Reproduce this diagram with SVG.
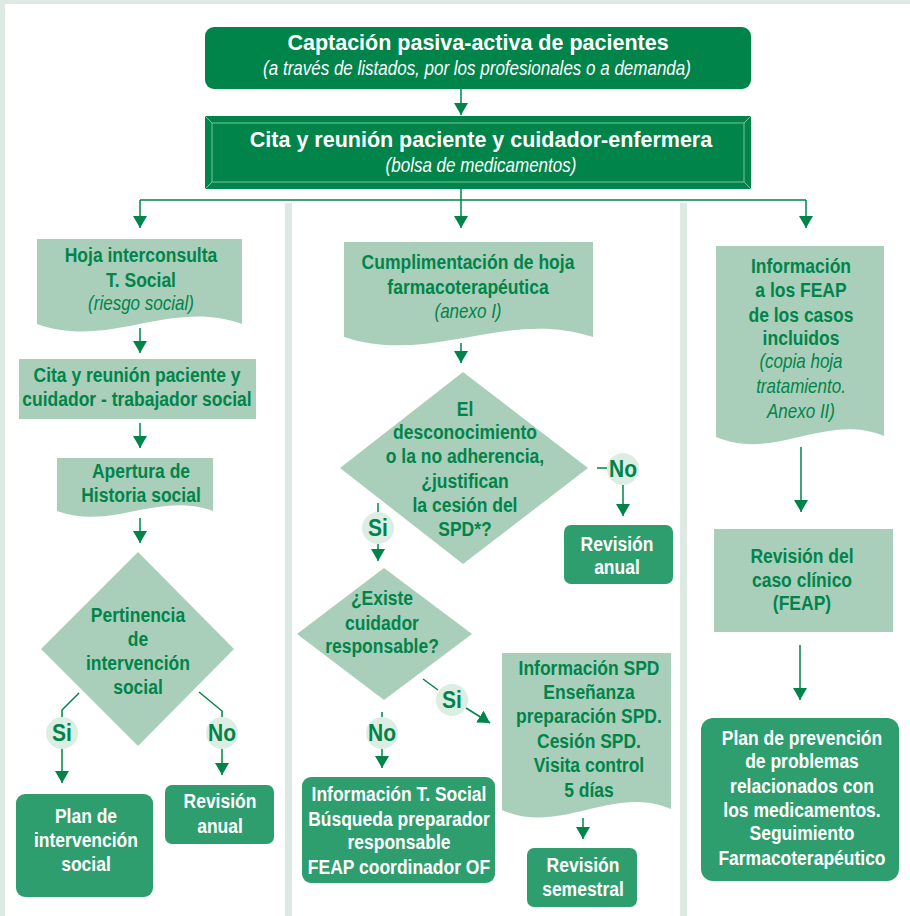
<svg xmlns="http://www.w3.org/2000/svg" width="910" height="916" viewBox="0 0 910 916">
<defs>
<style>
.bg{fill:#dde9e3}
.panel{fill:#ffffff}
.dark{fill:#00844a}
.light{fill:#a9cfba}
.med{fill:#2f9e6f}
.circ{fill:#dcede4}
.t{font-family:"Liberation Sans",Arial,sans-serif;font-weight:bold;font-size:17.5px;fill:#00844a;text-anchor:middle}
.w{fill:#ffffff}
.it{font-family:"Liberation Sans",Arial,sans-serif;font-style:italic;font-weight:normal;font-size:17px;fill:#00844a;text-anchor:middle}
.title{font-family:"Liberation Sans",Arial,sans-serif;font-weight:bold;font-size:21.5px;fill:#ffffff;text-anchor:middle}
.sub{font-family:"Liberation Sans",Arial,sans-serif;font-style:italic;font-size:17px;fill:#ffffff;text-anchor:middle}
.lbl{font-family:"Liberation Sans",Arial,sans-serif;font-weight:bold;font-size:21px;fill:#00844a;text-anchor:middle}
.t,.it,.lbl,.sub{transform-box:fill-box;transform-origin:50% 81%;transform:scaleY(1.14)}
.ln{fill:none;stroke:#00844a;stroke-width:1.5}
.arr{fill:none;stroke:#00844a;stroke-width:1.5;marker-end:url(#ah)}
.bev{fill:none;stroke:#7fc09c;stroke-width:1}
</style>
<marker id="ah" viewBox="0 0 12 14" refX="12" refY="7" markerWidth="12" markerHeight="14" markerUnits="userSpaceOnUse" orient="auto">
<path d="M0,0 L12,7 L0,14 Z" fill="#00844a"/>
</marker>
</defs>

<rect class="bg" x="0" y="0" width="910" height="916"/>
<rect class="panel" x="5" y="4" width="905" height="912"/>
<rect class="bg" x="285" y="203" width="7" height="713"/>
<rect class="bg" x="680" y="203" width="7" height="713"/>

<g id="connectors">
<line class="arr" x1="461" y1="89" x2="461" y2="115"/>
<polyline class="ln" points="140,200 806,200"/>
<line class="ln" x1="461" y1="189" x2="461" y2="200"/>
<line class="arr" x1="140" y1="200" x2="140" y2="228"/>
<line class="arr" x1="461" y1="200" x2="461" y2="228"/>
<line class="arr" x1="806" y1="200" x2="806" y2="228"/>
<line class="arr" x1="140" y1="328" x2="140" y2="353"/>
<line class="arr" x1="140" y1="423" x2="140" y2="448"/>
<line class="arr" x1="140" y1="518" x2="140" y2="543"/>
<polyline class="ln" points="79,693 62,710 62,717"/>
<line class="arr" x1="62" y1="749" x2="62" y2="783"/>
<polyline class="ln" points="199,692 222,711 222,717"/>
<line class="arr" x1="222" y1="749" x2="222" y2="775"/>
<line class="arr" x1="461" y1="343" x2="461" y2="363"/>
<line class="ln" x1="597" y1="468" x2="607" y2="468"/>
<line class="arr" x1="623" y1="485" x2="623" y2="516"/>
<line class="ln" x1="378" y1="503" x2="378" y2="512"/>
<line class="arr" x1="378" y1="544" x2="378" y2="561"/>
<line class="ln" x1="382" y1="712" x2="382" y2="717"/>
<line class="arr" x1="382" y1="749" x2="382" y2="768"/>
<line class="ln" x1="423" y1="679" x2="438" y2="690"/>
<line class="arr" x1="466" y1="708" x2="490" y2="723"/>
<line class="arr" x1="583" y1="818" x2="583" y2="839"/>
<line class="arr" x1="801" y1="447" x2="801" y2="512"/>
<line class="arr" x1="800" y1="645" x2="800" y2="700"/>
</g>

<g id="n-captacion">
<rect class="dark" x="205" y="27" width="546" height="62" rx="9"/>
<text class="title" x="478" y="50">Captación pasiva-activa de pacientes</text>
<text class="sub" x="477" y="75">(a través de listados, por los profesionales o a demanda)</text>
</g>

<g id="n-cita-enfermera">
<rect class="dark" x="205" y="116" width="546" height="73"/>
<rect class="bev" x="212" y="123" width="532" height="59"/>
<path class="bev" d="M205,116 L212,123 M751,116 L744,123 M205,189 L212,182 M751,189 L744,182"/>
<text class="title" x="481" y="147">Cita y reunión paciente y cuidador-enfermera</text>
<text class="sub" x="481" y="172">(bolsa de medicamentos)</text>
</g>

<g id="n-hoja-interconsulta">
<path class="light" d="M37,239 H242 V324 C170,298 109,350 37,324 Z"/>
<text class="t" x="141" y="262">Hoja interconsulta</text>
<text class="t" x="141" y="287">T. Social</text>
<text class="it" x="141" y="310">(riesgo social)</text>
</g>

<g id="n-cita-trabajador">
<rect class="light" x="19" y="359" width="237" height="60"/>
<text class="t" x="137" y="382">Cita y reunión paciente y</text>
<text class="t" x="137" y="406">cuidador - trabajador social</text>
</g>

<g id="n-apertura">
<path class="light" d="M57,458 H213 V511 C158,491 112,531 57,511 Z"/>
<text class="t" x="141" y="478">Apertura de</text>
<text class="t" x="141" y="502">Historia social</text>
</g>

<g id="n-pertinencia">
<path class="light" d="M138,552 L234,649 L138,746 L41,649 Z"/>
<text class="t" x="138" y="622">Pertinencia</text>
<text class="t" x="138" y="646">de</text>
<text class="t" x="138" y="670">intervención</text>
<text class="t" x="138" y="694">social</text>
</g>

<g id="l-si-1"><circle class="circ" cx="62" cy="733" r="16"/><text class="lbl" x="62" y="741">Si</text></g>
<g id="l-no-1"><circle class="circ" cx="222" cy="733" r="16"/><text class="lbl" x="222" y="741">No</text></g>

<g id="n-plan-intervencion">
<rect class="med" x="16" y="794" width="137" height="103" rx="9"/>
<text class="t w" x="86" y="823">Plan de</text>
<text class="t w" x="86" y="847">intervención</text>
<text class="t w" x="86" y="871">social</text>
</g>

<g id="n-revision-anual-1">
<rect class="med" x="165" y="785" width="109" height="59" rx="7"/>
<text class="t w" x="220" y="808">Revisión</text>
<text class="t w" x="220" y="833">anual</text>
</g>

<g id="n-cumplimentacion">
<path class="light" d="M344,242 H593 V337 C506,308 431,366 344,337 Z"/>
<text class="t" x="468" y="269">Cumplimentación de hoja</text>
<text class="t" x="468" y="294">farmacoterapéutica</text>
<text class="it" x="468" y="318">(anexo I)</text>
</g>

<g id="n-desconocimiento">
<path class="light" d="M463,372 L588,468 L463,564 L340,468 Z"/>
<text class="t" x="465" y="416">El</text>
<text class="t" x="465" y="439">desconocimiento</text>
<text class="t" x="465" y="463">o la no adherencia,</text>
<text class="t" x="465" y="488">¿justifican</text>
<text class="t" x="465" y="512">la cesión del</text>
<text class="t" x="465" y="536">SPD*?</text>
</g>

<g id="l-no-2"><circle class="circ" cx="623" cy="469" r="16"/><text class="lbl" x="623" y="477">No</text></g>
<g id="l-si-2"><circle class="circ" cx="378" cy="528" r="16"/><text class="lbl" x="378" y="536">Si</text></g>

<g id="n-revision-anual-2">
<rect class="med" x="564" y="525" width="109" height="59" rx="7"/>
<text class="t w" x="617" y="551">Revisión</text>
<text class="t w" x="617" y="574">anual</text>
</g>

<g id="n-existe-cuidador">
<path class="light" d="M384,568 L472,634 L384,700 L297,634 Z"/>
<text class="t" x="382" y="605">¿Existe</text>
<text class="t" x="382" y="630">cuidador</text>
<text class="t" x="382" y="653">responsable?</text>
</g>

<g id="l-no-3"><circle class="circ" cx="382" cy="733" r="16"/><text class="lbl" x="382" y="741">No</text></g>
<g id="l-si-3"><circle class="circ" cx="452" cy="700" r="16"/><text class="lbl" x="452" y="708">Si</text></g>

<g id="n-info-tsocial">
<rect class="med" x="302" y="777" width="193" height="106" rx="9"/>
<text class="t w" x="399" y="801">Información T. Social</text>
<text class="t w" x="399" y="826">Búsqueda preparador</text>
<text class="t w" x="399" y="849">responsable</text>
<text class="t w" x="399" y="874">FEAP coordinador OF</text>
</g>

<g id="n-info-spd">
<path class="light" d="M502,653 H671 V809 C612,784 561,836 502,810 Z"/>
<text class="t" x="589" y="675">Información SPD</text>
<text class="t" x="589" y="699">Enseñanza</text>
<text class="t" x="589" y="723">preparación SPD.</text>
<text class="t" x="589" y="748">Cesión SPD.</text>
<text class="t" x="589" y="772">Visita control</text>
<text class="t" x="589" y="797">5 días</text>
</g>

<g id="n-revision-semestral">
<rect class="med" x="527" y="848" width="110" height="59" rx="7"/>
<text class="t w" x="583" y="872">Revisión</text>
<text class="t w" x="583" y="896">semestral</text>
</g>

<g id="n-info-feap">
<path class="light" d="M716,246 H884 V436 C825,412 775,462 716,437 Z"/>
<text class="t" x="801" y="273">Información</text>
<text class="t" x="801" y="297">a los FEAP</text>
<text class="t" x="801" y="322">de los casos</text>
<text class="t" x="801" y="345">incluidos</text>
<text class="it" x="801" y="368">(copia hoja</text>
<text class="it" x="801" y="393">tratamiento.</text>
<text class="it" x="801" y="418">Anexo II)</text>
</g>

<g id="n-revision-caso">
<rect class="light" x="714" y="529" width="179" height="103"/>
<text class="t" x="802" y="563">Revisión del</text>
<text class="t" x="802" y="587">caso clínico</text>
<text class="t" x="802" y="610">(FEAP)</text>
</g>

<g id="n-plan-prevencion">
<rect class="med" x="701" y="718" width="198" height="163" rx="12"/>
<text class="t w" x="802" y="745">Plan de prevención</text>
<text class="t w" x="802" y="768">de problemas</text>
<text class="t w" x="802" y="793">relacionados con</text>
<text class="t w" x="802" y="817">los medicamentos.</text>
<text class="t w" x="802" y="840">Seguimiento</text>
<text class="t w" x="802" y="865">Farmacoterapéutico</text>
</g>
</svg>
